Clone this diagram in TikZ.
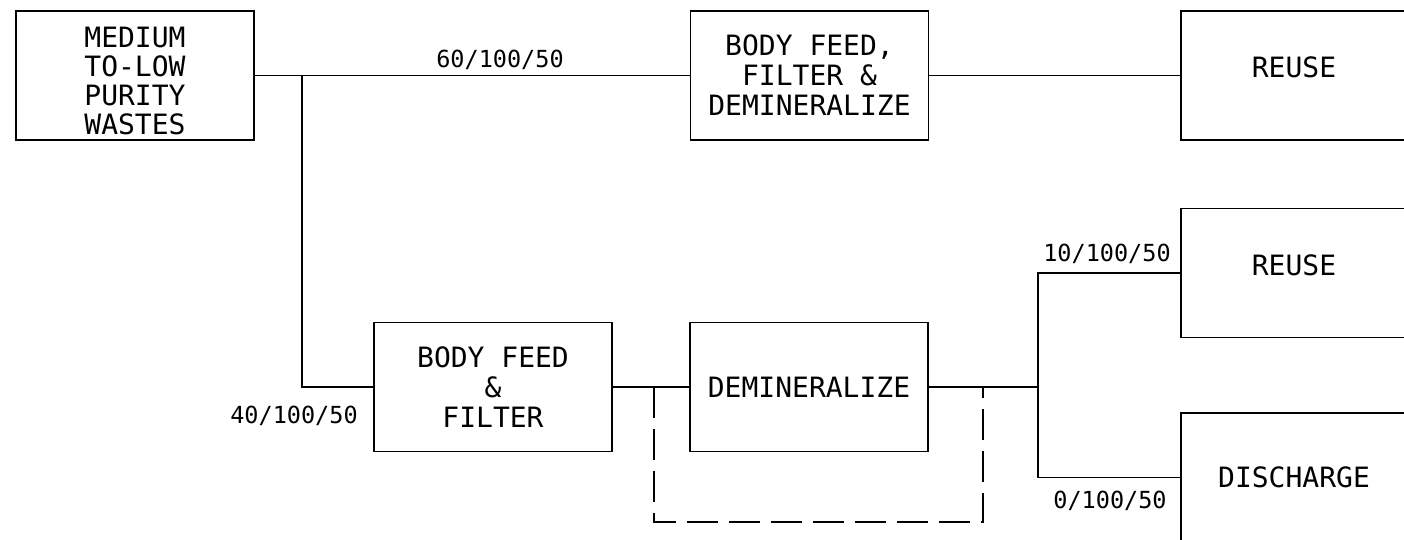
\documentclass[tikz,border=0pt]{standalone}
\usepackage{fontspec}
\setmainfont{DejaVu Sans Mono}
\begin{document}
\begin{tikzpicture}[x=1pt,y=-1pt,
  line width=1.1pt,
  box/.style={draw, minimum width=238pt, minimum height=129pt, inner sep=0pt, align=center,
    font=\fontsize{28}{30}\selectfont},
  openbox/.style={box, minimum width=226pt},
  flow/.style={font=\fontsize{23.5}{24}\selectfont, inner sep=0pt},
  bypass/.style={dash pattern=on 31pt off 11pt}]
\useasboundingbox (0,0) rectangle (1404,540);
\clip (0,0) rectangle (1404,540);

\node[box, font=\fontsize{28}{29}\selectfont, text height=118.5pt] (src) at (135,75.5) {MEDIUM\\TO-LOW\\PURITY\\WASTES};
\node[box] (bffd) at (809.5,75.5) {BODY FEED,\\FILTER \&\\DEMINERALIZE};
\node[openbox, text depth=16pt] (r1) at (1294,75.5) {REUSE};
\node[openbox, text depth=16pt] (r2) at (1294,273) {REUSE};
\node[openbox] (dis) at (1294,477.5) {DISCHARGE};
\node[box] (bff) at (493,387) {BODY FEED\\\&\\FILTER};
\node[box] (demin) at (809,387) {DEMINERALIZE};

\coordinate (j1) at (302,75.5);
\coordinate (d1) at (654,387);
\coordinate (d2) at (983,387);
\coordinate (dl) at (654,522);
\coordinate (dr) at (983,522);
\coordinate (s) at (1038,387);

\draw (src.east) -- (bffd.west);
\draw (bffd.east) -- (r1.west);
\draw (j1) |- (bff.west);
\draw (bff.east) -- (demin.west);
\draw (demin.east) -- (s);
\draw (s) |- (r2.west);
\draw (s) |- (dis.west);
\draw[bypass] (d1) -- (dl) -- (dr) -- (d2);

\node[flow] (l1) at (500,59.5) {60/100/50};
\node[flow] (l2) at (294,416) {40/100/50};
\node[flow] (l3) at (1107,254) {10/100/50};
\node[flow] (l4) at (1110,501) {0/100/50};
\end{tikzpicture}
\end{document}
